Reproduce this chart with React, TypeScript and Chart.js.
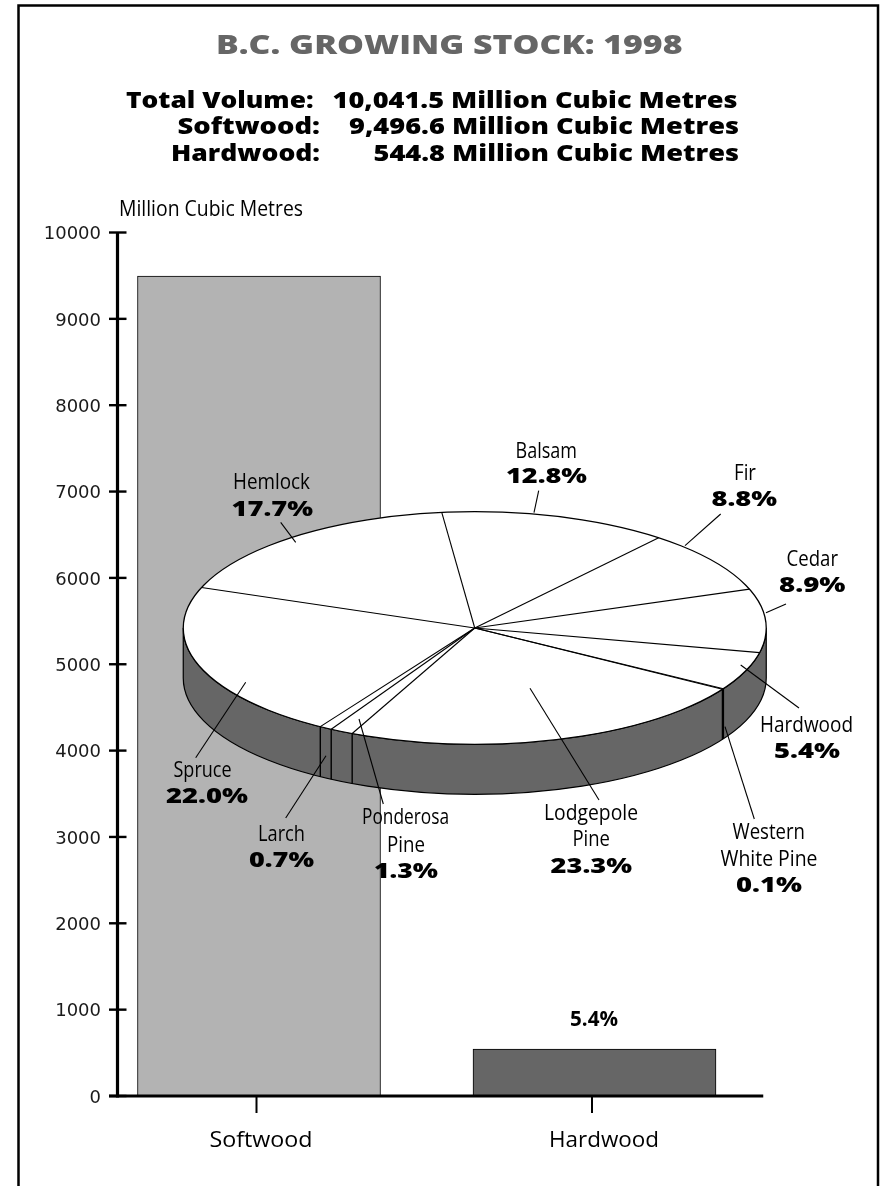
import React, { useEffect, useRef } from "react";
import { Chart, registerables } from "chart.js";

Chart.register(...registerables);

const WIDTH = 882;
const HEIGHT = 1186;

// Growing stock by wood type, million cubic metres
const categories = ["Softwood", "Hardwood"];
const volumes = [9496.6, 544.8];
const barColors = ["#b3b3b3", "#666666"];

// Species share of the total volume, clockwise from Balsam
const species = [
  "Balsam",
  "Fir",
  "Cedar",
  "Hardwood",
  "Western White Pine",
  "Lodgepole Pine",
  "Ponderosa Pine",
  "Larch",
  "Spruce",
  "Hemlock",
];
const shares = [12.8, 8.8, 8.9, 5.4, 0.1, 23.3, 1.3, 0.7, 22.0, 17.7];

const chartTitle = "B.C. GROWING STOCK: 1998";
const summaryHeads = ["Total Volume:", "Softwood:", "Hardwood:"];
const summaryValues = [
  "10,041.5 Million Cubic Metres",
  "9,496.6 Million Cubic Metres",
  "544.8 Million Cubic Metres",
];
const axisUnit = "Million Cubic Metres";
const hardwoodBarNote = "5.4%";

const SANS = '"Open Sans"';

// Draws text stretched horizontally to span x0..x1 on the given baseline.
function fitText(
  ctx: CanvasRenderingContext2D,
  text: string,
  x0: number,
  x1: number,
  baseline: number,
  font: string,
  color = "#000000"
) {
  ctx.save();
  ctx.font = font;
  ctx.fillStyle = color;
  ctx.textAlign = "left";
  ctx.textBaseline = "alphabetic";
  const measured = ctx.measureText(text).width;
  ctx.translate(x0, baseline);
  ctx.scale((x1 - x0) / measured, 1);
  ctx.fillText(text, 0, 0);
  ctx.restore();
}

function segment(
  ctx: CanvasRenderingContext2D,
  x0: number,
  y0: number,
  x1: number,
  y1: number,
  width: number
) {
  ctx.lineWidth = width;
  ctx.beginPath();
  ctx.moveTo(x0, y0);
  ctx.lineTo(x1, y1);
  ctx.stroke();
}

// Frame, headings and hand-ruled axes around the bars.
const barDecorations = {
  id: "barDecorations",
  afterDatasetsDraw(chart: any) {
    const { ctx, chartArea, scales } = chart;
    const yScale = scales.y;
    const xScale = scales.x;
    const axisX = chartArea.left + 26.25;
    ctx.save();
    ctx.strokeStyle = "#000000";
    ctx.lineCap = "butt";

    ctx.lineWidth = 2.5;
    ctx.beginPath();
    ctx.moveTo(18.5, HEIGHT + 4);
    ctx.lineTo(18.5, 5.5);
    ctx.lineTo(878, 5.5);
    ctx.lineTo(878, HEIGHT + 4);
    ctx.stroke();

    segment(ctx, axisX, yScale.top, axisX, yScale.bottom + 1.5, 3.2);
    segment(ctx, axisX - 8.5, yScale.bottom, chartArea.right + 1, yScale.bottom, 3);
    yScale.ticks.forEach((tick: any) => {
      const y = yScale.getPixelForValue(tick.value);
      segment(ctx, axisX - 8.5, y, axisX + 9, y, 2.4);
    });
    [-2.5, -2.5].forEach((shift, i) => {
      const x = xScale.getPixelForValue(i) + shift;
      segment(ctx, x, yScale.bottom, x, yScale.bottom + 17, 2);
    });

    const labelFont = `400 22px ${SANS}`;
    fitText(ctx, categories[0], 209.5, 312.5, 1146.5, labelFont);
    fitText(ctx, categories[1], 549, 659, 1146.5, labelFont);
    fitText(ctx, hardwoodBarNote, 570, 618, 1026, `700 21px ${SANS}`);

    fitText(ctx, axisUnit, 119, 303, 216, `400 21px ${SANS}`);
    fitText(ctx, chartTitle, 216, 682.5, 53.5, `800 27px ${SANS}`, "#666666");

    const headFont = `800 23px ${SANS}`;
    fitText(ctx, summaryHeads[0], 126, 313.5, 107.5, headFont);
    fitText(ctx, summaryValues[0], 332.5, 737.5, 107.5, headFont);
    fitText(ctx, summaryHeads[1], 177.5, 320, 133.5, headFont);
    fitText(ctx, summaryValues[1], 349, 739, 133.5, headFont);
    fitText(ctx, summaryHeads[2], 171, 320, 160.5, headFont);
    fitText(ctx, summaryValues[2], 373.5, 739, 160.5, headFont);
    ctx.restore();
  },
};

const TILT = 0.399;
const WALL_DEPTH = 50;

// Placement of each species callout: text rows, then the leader line.
const callouts = [
  { rows: [["Balsam", 515.5, 577, 457.5]], pct: [506, 587, 483], leader: [538.7, 490.7, 534, 512.7] },
  { rows: [["Fir", 734, 756, 480]], pct: [711.5, 777, 506], leader: [720.7, 514, 685, 545.7] },
  { rows: [["Cedar", 786.5, 838, 565.5]], pct: [779, 845.5, 591.5], leader: [786, 604, 766, 612.7] },
  { rows: [["Hardwood", 760, 853, 731.5]], pct: [774, 840, 757.5], leader: [799, 708, 740.7, 665] },
  {
    rows: [["Western", 732.5, 805, 839], ["White Pine", 720.5, 817.5, 865.5]],
    pct: [736, 802, 891.5],
    leader: [754.3, 819, 725, 726.7],
  },
  {
    rows: [["Lodgepole", 544, 638, 820], ["Pine", 572.5, 610, 845.5]],
    pct: [550.5, 632, 872.5],
    leader: [599, 800, 530, 688.3],
  },
  {
    rows: [["Ponderosa", 362, 449, 824], ["Pine", 387, 425, 851.5]],
    pct: [374, 438, 878],
    leader: [383.3, 804, 359, 719],
  },
  { rows: [["Larch", 258, 305, 840.5]], pct: [249, 314, 867], leader: [285.7, 818, 326, 755.7] },
  { rows: [["Spruce", 173.5, 231.5, 776.5]], pct: [166, 248, 802.5], leader: [195.7, 757.7, 245.7, 682.3] },
  { rows: [["Hemlock", 233, 310, 489]], pct: [231.5, 313, 516], leader: [280.7, 522.3, 295.7, 542.3] },
] as const;

// Flattens the circular pie into a disc: the wall goes underneath, the slices
// are filled under a vertical squeeze, and outlines are stroked at true width.
const tiltedDisc = {
  id: "tiltedDisc",
  beforeDatasetsDraw(chart: any) {
    const { ctx } = chart;
    const first = chart.getDatasetMeta(0).data[0];
    const cx = first.x;
    const cy = first.y;
    const rx = first.outerRadius;
    const ry = rx * TILT;

    ctx.save();
    ctx.beginPath();
    ctx.ellipse(cx, cy, rx, ry, 0, 0, Math.PI, false);
    ctx.lineTo(cx - rx, cy + WALL_DEPTH);
    ctx.ellipse(cx, cy + WALL_DEPTH, rx, ry, 0, Math.PI, 0, true);
    ctx.closePath();
    ctx.fillStyle = "#666666";
    ctx.fill();
    ctx.strokeStyle = "#000000";
    ctx.lineWidth = 1.2;
    ctx.stroke();
    ctx.restore();

    ctx.save();
    ctx.translate(0, cy);
    ctx.scale(1, TILT);
    ctx.translate(0, -cy);
  },
  afterDatasetsDraw(chart: any) {
    const { ctx } = chart;
    ctx.restore();

    const arcs = chart.getDatasetMeta(0).data;
    const cx = arcs[0].x;
    const cy = arcs[0].y;
    const rx = arcs[0].outerRadius;
    const ry = rx * TILT;

    ctx.save();
    ctx.strokeStyle = "#000000";
    ctx.lineCap = "butt";
    arcs.forEach((arc: any) => {
      const px = cx + rx * Math.cos(arc.startAngle);
      const py = cy + ry * Math.sin(arc.startAngle);
      segment(ctx, cx, cy, px, py, 1.1);
      // Slice boundaries facing the viewer carry on down the wall.
      if (Math.sin(arc.startAngle) > 0 && Math.abs(px - cx) < rx * 0.95) {
        segment(ctx, px, py, px, py + WALL_DEPTH, 1.4);
      }
    });
    ctx.lineWidth = 1.3;
    ctx.beginPath();
    ctx.ellipse(cx, cy, rx, ry, 0, 0, Math.PI * 2);
    ctx.stroke();

    callouts.forEach((callout, i) => {
      const [x0, y0, x1, y1] = callout.leader;
      segment(ctx, x0, y0, x1, y1, 1.1);
      callout.rows.forEach(([text, left, right, baseline]) => {
        fitText(ctx, text, left, right, baseline, `400 22px ${SANS}`);
      });
      const [left, right, baseline] = callout.pct;
      fitText(ctx, `${shares[i].toFixed(1)}%`, left, right, baseline, `800 21px ${SANS}`);
    });
    ctx.restore();
  },
};

export default function App() {
  const barRef = useRef<HTMLCanvasElement>(null);
  const pieRef = useRef<HTMLCanvasElement>(null);

  useEffect(() => {
    const barChart = new Chart(barRef.current!, {
      type: "bar",
      data: {
        labels: categories,
        datasets: [
          {
            data: volumes,
            backgroundColor: barColors,
            borderColor: "#000000",
            borderWidth: 1,
            barThickness: 243,
          },
        ],
      },
      options: {
        animation: false,
        responsive: false,
        events: [],
        layout: {
          autoPadding: false,
          padding: { left: 0, top: 232.5, right: 119.75, bottom: 0 },
        },
        plugins: { legend: { display: false }, tooltip: { enabled: false } },
        scales: {
          x: {
            grid: { display: false },
            border: { display: false },
            ticks: { display: false },
            afterFit(scale: any) {
              scale.height = 90;
            },
          },
          y: {
            min: 0,
            max: 10000,
            grid: { display: false },
            border: { display: false },
            ticks: {
              stepSize: 1000,
              autoSkip: false,
              // Mirrored so the labels may run past the scale's own box.
              mirror: true,
              crossAlign: "far",
              padding: -47.5,
              labelOffset: 2,
              color: "#1a1a1a",
              font: { family: "DejaVu Sans", size: 18 },
              callback: (value: number) => String(value),
            },
            afterFit(scale: any) {
              scale.width = 91.25;
            },
          },
        },
      },
      plugins: [barDecorations],
    } as any);

    const pieChart = new Chart(pieRef.current!, {
      type: "pie",
      data: {
        labels: species,
        datasets: [
          {
            data: shares,
            backgroundColor: "#ffffff",
            borderWidth: 0,
            clip: false,
          },
        ],
      },
      options: {
        animation: false,
        responsive: false,
        events: [],
        rotation: -6.5,
        layout: {
          autoPadding: false,
          padding: { left: 183.25, right: 115.75, top: 336.5, bottom: 266.5 },
        },
        plugins: { legend: { display: false }, tooltip: { enabled: false } },
      },
      plugins: [tiltedDisc],
    } as any);

    return () => {
      barChart.destroy();
      pieChart.destroy();
    };
  }, []);

  const layer: React.CSSProperties = { position: "absolute", left: 0, top: 0 };
  return (
    <div
      style={{
        position: "absolute",
        left: 0,
        top: 0,
        width: WIDTH,
        height: HEIGHT,
        overflow: "hidden",
        background: "#ffffff",
      }}
    >
      <canvas ref={barRef} width={WIDTH} height={HEIGHT} style={layer} />
      <canvas ref={pieRef} width={WIDTH} height={HEIGHT} style={layer} />
    </div>
  );
}
